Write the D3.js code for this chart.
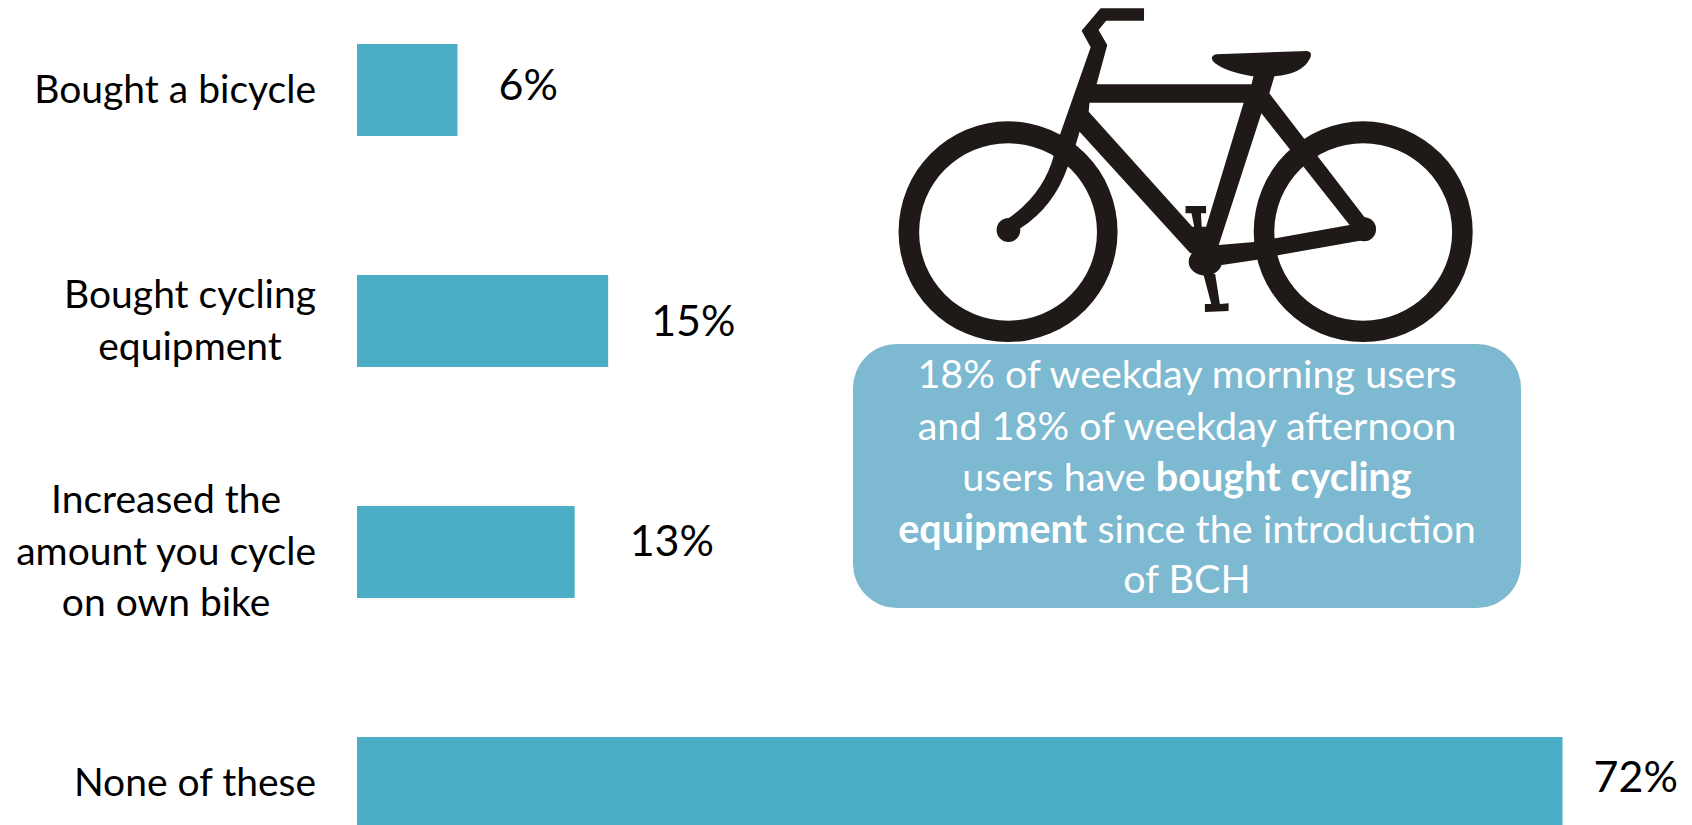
<!DOCTYPE html>
<html><head><meta charset="utf-8">
<script src="https://cdn.jsdelivr.net/npm/d3@7"></script>
<style>
html,body{margin:0;padding:0;background:#fff;overflow:hidden}
svg{display:block}
text{font-family:Lato,"Open Sans",sans-serif}
</style></head><body>
<svg id="chart" width="1692" height="825"></svg>
<script>
// DATA
const categories = ["Bought a bicycle", "Bought cycling equipment", "Increased the amount you cycle on own bike", "None of these"];
const categoryLines = [["Bought a bicycle"], ["Bought cycling", "equipment"], ["Increased the", "amount you cycle", "on own bike"], ["None of these"]];
const values = [6, 15, 13, 72];
const calloutLines = [
  [["18% of weekday morning users", false]],
  [["and 18% of weekday afternoon", false]],
  [["users have ", false], ["bought cycling", true]],
  [["equipment", true], [" since the introduction", false]],
  [["of BCH", false]]
];

// LAYOUT
const W = 1692, H = 825;
const svg = d3.select("#chart").attr("viewBox", `0 0 ${W} ${H}`);
const x = d3.scaleLinear().domain([0, 72]).range([357, 1562.5]);
// band step 231, bar thickness 92, first bar top at 44
const y = d3.scaleBand().domain(categories).range([44, 44 + 231 * 3 + 92]).paddingInner(139 / 231).paddingOuter(0);

const LABEL_FS = 39, VALUE_FS = 43, CALLOUT_FS = 39.5;
const BAR = "#4badc6", BOX = "#7db9d0", INK = "#000", BIKE = "#1f1a17";
const labelRightEdge = 316;
const valueGap = [41, 43, 55, 31];         // label offset from bar end
const valueShift = [10, 15, 4, 9];         // baseline offset from bar centre
const labelFirstLine = [13, -13, -39, 13]; // first baseline relative to bar centre

// bars
svg.append("g").selectAll("rect").data(categories).join("rect")
  .attr("x", x(0)).attr("y", d => y(d))
  .attr("width", (d, i) => x(values[i]) - x(0))
  .attr("height", y.bandwidth()).attr("fill", BAR);

// category axis (labels only, centred per block and right-aligned as a block)
const axis = d3.axisLeft(y).tickSize(0).tickPadding(0);
const gAxis = svg.append("g").attr("transform", `translate(${labelRightEdge},0)`).call(axis);
gAxis.select(".domain").remove();
gAxis.selectAll("text").each(function (d, i) {
  const t = d3.select(this).text(null).attr("x", 0).attr("dy", null).attr("y", null)
    .attr("font-size", LABEL_FS).attr("fill", INK).attr("text-anchor", "middle");
  categoryLines[i].forEach((l, k) => t.append("tspan").attr("x", 0).attr("y", labelFirstLine[i] + k * 51.5).text(l));
});
gAxis.selectAll("text").each(function () {
  const b = this.getBBox();
  d3.select(this).selectAll("tspan").attr("x", -b.width / 2);
});

// value labels
svg.append("g").selectAll("text").data(values).join("text")
  .attr("x", (d, i) => x(d) + valueGap[i])
  .attr("y", (d, i) => y(categories[i]) + y.bandwidth() / 2 + valueShift[i])
  .attr("font-size", VALUE_FS).attr("fill", INK).text(d => d + "%");

// bicycle pictogram, traced in a local coordinate frame
const sx = 1 / 2.53, sy = 1 / 3;
const inner = svg.append("g").attr("fill", BIKE).attr("transform", `translate(880,0) scale(${sx},${sy})`);
const ring = (cx, cy, rx, ry) => `M${cx - rx},${cy}A${rx},${ry} 0 1,0 ${cx + rx},${cy}A${rx},${ry} 0 1,0 ${cx - rx},${cy}Z`;
[324, 1222.5].forEach(cx => {
  inner.append("path").attr("fill-rule", "evenodd")
    .attr("d", ring(cx, 695, 277, 331) + ring(cx, 696, 225, 266));
});
[
  "M558,25 L668,25 L668,62 L572,62 L553,90 L575,135 L548,253 L940,253 L945,228 L998,228 L985,280 L1225,650 L1250,680 L1225,720 L1010,765 L950,780 L865,795 L820,760 L785,760 L505,395 L495,435 L475,500 Q440,620 355,685 L325,655 Q415,580 440,465 L455,405 L533,142 L510,92 Z M530,308 L528,335 L790,680 L795,680 L788,640 L773,640 L773,618 L825,618 L825,640 L812,640 L814,680 L825,680 L920,308 Z M965,340 L857,735 L947,726 L1188,675 Z",
  "M850,163 L1080,153 Q1095,155 1088,175 Q1070,222 998,229 L942,229 Q875,215 848,190 Q830,172 850,163 Z",
  "M818,822 L848,822 L860,912 L882,910 L882,933 L822,936 L822,912 L838,912 Z"
].forEach(d => inner.append("path").attr("d", d).attr("fill-rule", "evenodd"));
[[325, 690, 30, 36], [1225, 688, 30, 36], [823, 785, 42, 42]].forEach(([cx, cy, rx, ry]) =>
  inner.append("ellipse").attr("cx", cx).attr("cy", cy).attr("rx", rx).attr("ry", ry));

// callout
svg.append("rect").attr("x", 853).attr("y", 344).attr("width", 668).attr("height", 264)
  .attr("rx", 44).attr("ry", 44).attr("fill", BOX);
const calloutBase = [388, 440, 491, 543, 593];
calloutLines.forEach((runs, i) => {
  const t = svg.append("text").attr("text-anchor", "middle").attr("font-size", CALLOUT_FS).attr("fill", "#fff")
    .attr("x", 1187).attr("y", calloutBase[i]).attr("xml:space", "preserve").style("white-space", "pre");
  runs.forEach(r => t.append("tspan").text(r[0]).attr("font-weight", r[1] ? 700 : 400));
});
</script>
</body></html>
